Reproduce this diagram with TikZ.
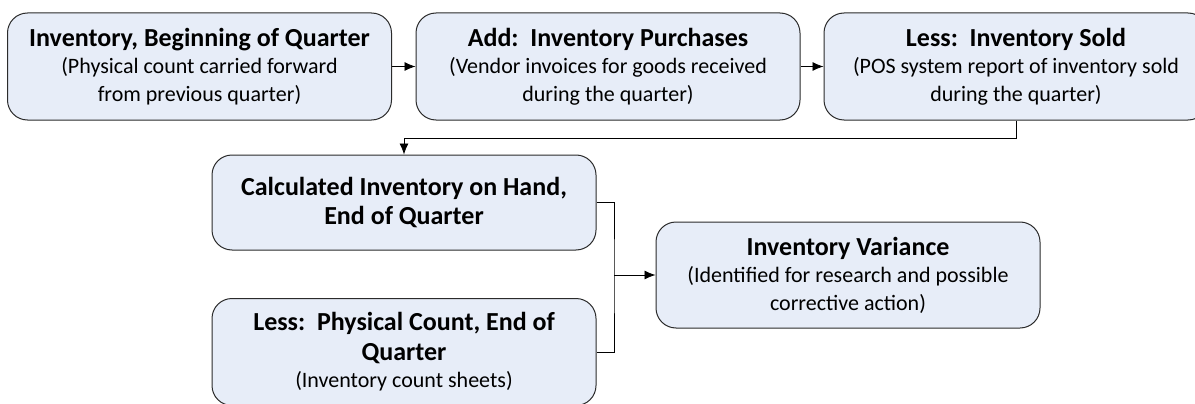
\documentclass[tikz,border=0pt]{standalone}
\usepackage{fontspec}
\setmainfont{Carlito}
\usepackage{tikz}
\usepackage{xcolor}
\usetikzlibrary{positioning, arrows.meta, calc}
\definecolor{cBoxFill}{HTML}{E7EDF8}
\definecolor{cBoxLine}{HTML}{2B2B2B}
\definecolor{cText}   {HTML}{000000}
\tikzset{
  stepBox/.style={draw=cBoxLine, fill=cBoxFill, rounded corners=20pt, line width=1pt,
    minimum width=384pt, align=center, text=cText, inner sep=0pt,
    font=\fontsize{22}{27.5}\selectfont},
  flowArrow/.style={-{Latex[length=11pt, width=9pt]}, line width=0.8pt},
  flowLine/.style={line width=0.8pt},
}
\newcommand{\boxTitle}[1]{{\bfseries\fontsize{26}{29}\selectfont #1}}

\begin{document}
\begin{tikzpicture}[x=1pt, y=-1pt]
  \useasboundingbox (0,0) rectangle (1195,404);
  \node[stepBox, minimum height=107pt] (begInv) at (199.5, 66.5)
    {\boxTitle{Inventory, Beginning of Quarter}\\(Physical count carried forward\\from previous quarter)};
  \node[stepBox, minimum height=107pt] (purch) at (608, 66.5)
    {\boxTitle{Add:\ \ Inventory Purchases}\\(Vendor invoices for goods received\\during the quarter)};
  \node[stepBox, minimum height=107pt] (sold) at (1016, 66.5)
    {\boxTitle{Less:\ \ Inventory Sold}\\(POS system report of inventory sold\\during the quarter)};
  \node[stepBox, minimum height=95pt] (calcInv) at (404, 202.5)
    {\boxTitle{Calculated Inventory on Hand,}\\[2pt]\boxTitle{End of Quarter}};
  \node[stepBox, minimum height=107pt] (physCnt) at (404, 352)
    {\boxTitle{Less:\ \ Physical Count, End of}\\[2pt]\boxTitle{Quarter}\\(Inventory count sheets)};
  \node[stepBox, minimum height=106pt] (variance) at (848, 275)
    {\boxTitle{Inventory Variance}\\(Identified for research and possible\\corrective action)};
  \coordinate (join) at (614, 275);

  \draw[flowArrow] (begInv.east) -- (purch.west);
  \draw[flowArrow] (purch.east) -- (sold.west);
  \draw[flowArrow] (sold.south) -- ++(0,18) -| (calcInv.north);
  \draw[flowLine] (calcInv.east) -| (join) |- (physCnt.east);
  \draw[flowArrow] (join) -- (variance.west);
\end{tikzpicture}
\end{document}
